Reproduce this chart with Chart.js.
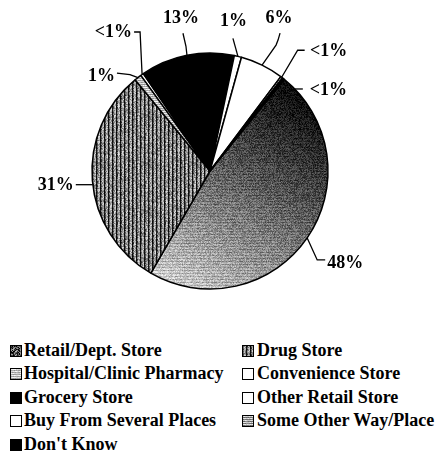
<!DOCTYPE html>
<html>
<head>
<meta charset="utf-8">
<script src="https://cdn.jsdelivr.net/npm/chart.js@4.4.1/dist/chart.umd.min.js"></script>
<style>
  html, body { margin: 0; padding: 0; background: #fff; }
  #wrap { position: relative; width: 443px; height: 460px; overflow: hidden; }
  #pie { position: absolute; left: 0; top: 0; }
  .key { position: absolute; height: 22px; line-height: 22px; font: bold 18px "Liberation Serif", "Times New Roman", serif; color: #000; white-space: nowrap; }
  .key canvas { position: absolute; left: 0; top: 5px; }
  .key span { position: absolute; top: 0; }
</style>
</head>
<body>
<div id="wrap">
  <canvas id="pie" width="443" height="335"></canvas>
  <div id="keys"></div>
</div>
<script>
// === DATA ===
const sliceNames = ['Retail/Dept. Store', 'Drug Store', 'Hospital/Clinic Pharmacy', 'Convenience Store',
  'Grocery Store', 'Other Retail Store', 'Buy From Several Places', 'Some Other Way/Place', "Don't Know"];
const sharePct = [48, 31, 1, 0.4, 13, 1, 6, 0.3, 0.3];
// fill style per slice: texture key or plain colour
const sliceFill = ['retail', 'drug', 'hospital', '#fff', '#000', '#fff', '#fff', 'other', '#000'];

// callouts: leader bends + text spot, relative to where the leader meets the rim
const callouts = [
  { nudge: 0,   path: [[10, 22], [18, 22]],            text: [20, 25],      align: 'left' },
  { nudge: -2,  path: [[-17, 0]],                      text: [-19, 1],      align: 'right' },
  { nudge: 0,   path: [[-8, -3], [-21, -4.5]],         text: [-23, -1.5],   align: 'right' },
  { nudge: 0,   path: [[-2, -42.5], [-8, -42.5]],      text: [-10, -42.5],  align: 'right' },
  { nudge: 0,   path: [[-1, -9], [-4, -22]],           text: [-6, -37],     align: 'center' },
  { nudge: 0,   path: [[-5, -18]],                     text: [-4.5, -35],   align: 'center' },
  { nudge: 0,   path: [[14, -20], [16, -25], [18, -32]], text: [17, -47],   align: 'center' },
  { nudge: 0,   path: [[16, -27], [23, -27]],          text: [28.3, -26.3], align: 'left' },
  { nudge: 7.5, path: [[8, 0]],                        text: [15, 1],       align: 'left' }
];

const pctText = v => v < 1 ? '<1%' : Math.round(v) + '%';

// === TEXTURES ===
function rng(seed) {
  let s = seed >>> 0;
  return () => { s = (s * 1664525 + 1013904223) >>> 0; return s / 4294967296; };
}

function paint(w, h, seed, shade) {
  const c = document.createElement('canvas');
  c.width = w; c.height = h;
  const g = c.getContext('2d');
  const img = g.createImageData(w, h);
  const rnd = rng(seed);
  for (let y = 0; y < h; y++) {
    for (let x = 0; x < w; x++) {
      const v = Math.max(0, Math.min(255, shade(x, y, rnd)));
      const k = (y * w + x) * 4;
      img.data[k] = img.data[k + 1] = img.data[k + 2] = v;
      img.data[k + 3] = 255;
    }
  }
  g.putImageData(img, 0, 0);
  return c;
}

const tiles = {
  // near black at the upper right, fading to light grey lower left
  retail: paint(443, 335, 7, (x, y, r) => {
    let t = ((x - 300) * -125 + (y - 80) * 210) / 59725;
    t = Math.max(0, Math.min(1, t));
    let v = 5 + 215 * Math.pow(t, 1.1);
    if (y % 3 === 0) v -= 40 * t;
    return v + (r() - 0.5) * (40 + 110 * t * (1.2 - t));
  }),
  drug: paint(48, 48, 11, (x, y, r) => {
    const m = x % 4;
    if (m === 0) return 15 + (r() - 0.5) * 30;
    if (m === 1) return 95 + (r() - 0.5) * 120;
    return 165 + (r() - 0.5) * 120;
  }),
  hospital: paint(24, 24, 3, (x, y, r) => (y % 2 === 0 ? 160 : 228) + (r() - 0.5) * 50),
  other: paint(24, 24, 5, (x, y, r) => (y % 2 === 0 ? 120 : 215) + (r() - 0.5) * 50),
  retailKey: paint(12, 12, 9, (x, y, r) => 80 + (r() - 0.5) * 220)
};

const scratch = document.createElement('canvas').getContext('2d');
const fillFor = key => tiles[key] ? scratch.createPattern(tiles[key], 'repeat') : key;

// === CALLOUT PLUGIN ===
const calloutPlugin = {
  id: 'callouts',
  afterDatasetsDraw(chart) {
    const ctx = chart.ctx;
    const arcs = chart.getDatasetMeta(0).data;
    ctx.save();
    ctx.strokeStyle = '#000';
    ctx.lineWidth = 1.3;
    ctx.fillStyle = '#000';
    ctx.font = 'bold 18px "Liberation Serif", "Times New Roman", serif';
    ctx.textBaseline = 'middle';
    arcs.forEach((arc, i) => {
      const p = arc.getProps(['x', 'y', 'startAngle', 'endAngle', 'outerRadius'], true);
      const c = callouts[i];
      const a = (p.startAngle + p.endAngle) / 2 + c.nudge * Math.PI / 180;
      const ax = p.x + Math.cos(a) * p.outerRadius;
      const ay = p.y + Math.sin(a) * p.outerRadius;
      ctx.beginPath();
      ctx.moveTo(ax, ay);
      c.path.forEach(([dx, dy]) => ctx.lineTo(ax + dx, ay + dy));
      ctx.stroke();
      ctx.textAlign = c.align;
      ctx.fillText(pctText(sharePct[i]), ax + c.text[0], ay + c.text[1]);
    });
    ctx.restore();
  }
};

// === CHART ===
new Chart(document.getElementById('pie'), {
  type: 'pie',
  data: {
    labels: sliceNames,
    datasets: [{
      data: sharePct,
      backgroundColor: sliceFill.map(fillFor),
      borderColor: '#000',
      borderWidth: 1.5
    }]
  },
  options: {
    responsive: false,
    animation: false,
    rotation: 39,
    radius: 118,
    layout: { padding: { left: 0, right: 23, top: 7, bottom: 0 } },
    plugins: { legend: { display: false }, tooltip: { enabled: false } }
  },
  plugins: [calloutPlugin]
});

// === KEY (two columns) ===
const keys = document.getElementById('keys');
sliceNames.forEach((name, i) => {
  const col = i % 2, row = Math.floor(i / 2);
  const div = document.createElement('div');
  div.className = 'key';
  div.style.left = (col ? 242 : 10) + 'px';
  div.style.top = (340 + row * 23.4) + 'px';
  const sw = document.createElement('canvas');
  sw.width = 12; sw.height = 12;
  const g = sw.getContext('2d');
  const key = sliceFill[i] === 'retail' ? 'retailKey' : sliceFill[i];
  g.fillStyle = tiles[key] ? g.createPattern(tiles[key], 'repeat') : key;
  g.fillRect(0, 0, 12, 12);
  g.strokeStyle = '#000';
  g.lineWidth = 1;
  g.strokeRect(0.5, 0.5, 11, 11);
  const label = document.createElement('span');
  label.style.left = (col ? 15 : 14) + 'px';
  label.textContent = name;
  div.appendChild(sw);
  div.appendChild(label);
  keys.appendChild(div);
});
</script>
</body>
</html>
